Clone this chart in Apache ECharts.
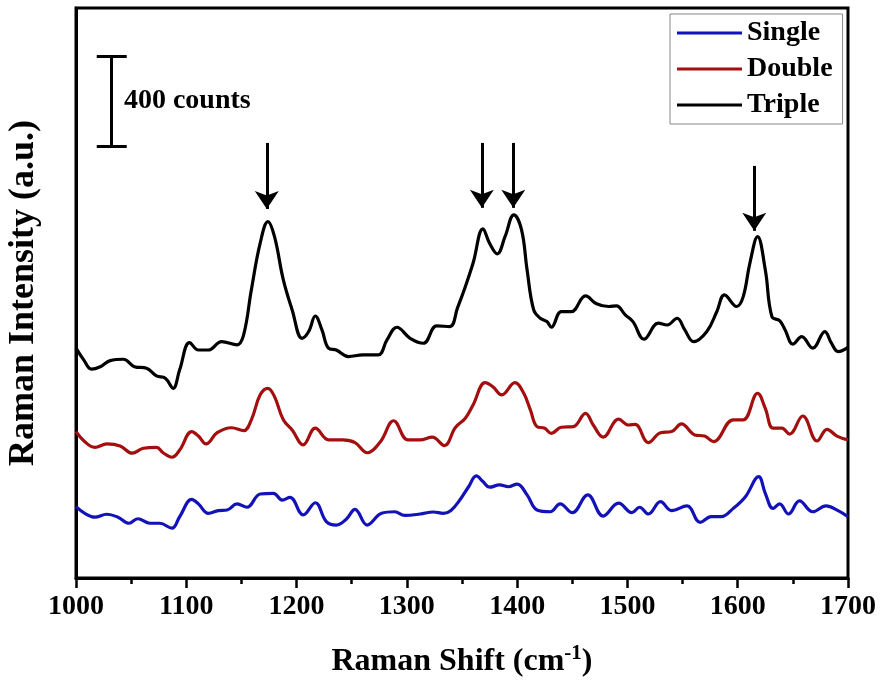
<!DOCTYPE html>
<html>
<head>
<meta charset="utf-8">
<script src="https://cdn.jsdelivr.net/npm/echarts@6/dist/echarts.min.js"></script>
<style>html,body{margin:0;padding:0;background:#fff}#c{width:885px;height:680px}</style>
</head>
<body>
<div id="c"></div>
<script>
// ---- data (Raman shift in cm^-1, intensity in counts, offset stacked) ----
var tripleShift = [1000,1007,1014,1022,1031,1043,1053,1064,1073,1081,1088,1094,1103,1111,1120,1132,1146,1152,1159,1167,1174,1180,1188,1196,1205,1211,1217,1223,1229,1236,1247,1260,1274,1282,1291,1303,1315,1327,1339,1346,1353,1360,1369,1375,1382,1389,1397,1404,1409,1415,1421,1427,1431,1440,1449,1462,1472,1483,1490,1498,1505,1515,1528,1536,1545,1552,1560,1572,1581,1588,1599,1605,1611,1618,1625,1631,1638,1643,1650,1658,1668,1679,1685,1691,1700];
var tripleCounts = [1020,968,927,938,965,971,938,931,897,887,842,924,1045,1012,1012,1049,1035,1079,1279,1486,1582,1515,1323,1190,1064,1094,1163,1101,1020,1012,983,990,990,1057,1113,1064,1042,1119,1116,1200,1293,1397,1550,1486,1439,1515,1612,1545,1368,1190,1153,1138,1113,1182,1182,1252,1217,1205,1208,1168,1138,1060,1131,1123,1153,1101,1049,1094,1182,1257,1205,1249,1397,1515,1368,1160,1142,1101,1038,1071,1020,1094,1042,1005,1024];

var doubleShift = [1000,1008,1017,1028,1040,1051,1061,1073,1079,1087,1094,1105,1111,1118,1128,1141,1152,1159,1167,1174,1180,1188,1196,1206,1217,1229,1242,1253,1264,1276,1288,1301,1312,1323,1334,1344,1353,1360,1371,1378,1386,1398,1406,1412,1418,1425,1431,1440,1451,1462,1469,1478,1492,1501,1507,1519,1530,1540,1549,1561,1570,1578,1596,1605,1618,1625,1632,1640,1647,1659,1672,1681,1690,1700];
var doubleCounts = [650,605,580,595,586,554,576,580,556,536,568,650,630,595,645,667,654,702,813,842,805,702,657,591,665,613,613,601,556,605,698,613,613,625,588,668,709,768,867,849,813,867,820,746,672,665,642,669,672,731,679,625,705,679,682,601,645,650,684,635,630,605,702,702,820,753,665,665,639,719,608,660,630,613];

var singleShift = [1000,1008,1017,1028,1038,1048,1056,1067,1076,1087,1094,1105,1111,1120,1129,1137,1146,1155,1167,1179,1187,1194,1206,1217,1227,1236,1245,1253,1264,1277,1289,1298,1312,1324,1333,1340,1348,1356,1363,1369,1375,1384,1392,1400,1409,1418,1430,1439,1450,1464,1478,1492,1504,1511,1519,1530,1540,1554,1566,1576,1585,1596,1607,1619,1625,1632,1638,1646,1656,1668,1680,1691,1700];
var singleCounts = [317,287,270,283,270,243,263,243,243,221,272,349,329,287,299,302,329,314,373,376,346,358,280,334,250,235,261,305,235,287,294,278,284,293,287,300,346,405,453,428,403,413,405,417,369,302,294,329,290,369,275,332,290,314,284,339,299,320,247,272,272,309,361,450,376,309,329,284,342,294,320,299,272];

var xTicks = [1000,1100,1200,1300,1400,1500,1600,1700];
var seriesNames = ['Single','Double','Triple'];
var arrowShifts = [1173,1368,1396.5,1615];
var scaleBarCounts = 400;

// ---- build ----
function pairs(xs, ys){ return xs.map(function(x,i){ return [x, ys[i]]; }); }
var FONT = 'Liberation Serif';
var arrowTop = [1931,1931,1931,1829];
var arrowTip = [1638,1643,1643,1541];
var sbX = 1032.4, sbLow = 1918, sbCapL = 1018.8, sbCapR = 1046;

var markLines = [];
arrowShifts.forEach(function(x,i){
  markLines.push([{coord:[x, arrowTop[i]], symbol:'none'}, {coord:[x, arrowTip[i]], symbol:'arrow', symbolSize:18}]);
});
var sbHigh = sbLow + scaleBarCounts;
markLines.push([{coord:[sbX, sbLow], symbol:'none'}, {coord:[sbX, sbHigh], symbol:'none'}]);
markLines.push([{coord:[sbCapL, sbLow], symbol:'none'}, {coord:[sbCapR, sbLow], symbol:'none'}]);
markLines.push([{coord:[sbCapL, sbHigh], symbol:'none'}, {coord:[sbCapR, sbHigh], symbol:'none'}]);

function lineSeries(name, xs, ys, color){
  return {
    name: name, type: 'line', data: pairs(xs, ys), smooth: 0.4,
    showSymbol: false, symbol: 'none',
    lineStyle: {color: color, width: 3.2}, itemStyle: {color: color},
    z: 3
  };
}
var sSingle = lineSeries(seriesNames[0], singleShift, singleCounts, '#1212b8');
var sDouble = lineSeries(seriesNames[1], doubleShift, doubleCounts, '#a30f0f');
var sTriple = lineSeries(seriesNames[2], tripleShift, tripleCounts, '#000000');
sTriple.markLine = {
  silent: true, animation: false,
  symbolSize: 18,
  label: {show: false},
  lineStyle: {color: '#000', width: 3, type: 'solid'},
  emphasis: {disabled: true},
  data: markLines
};
sTriple.markPoint = {
  silent: true, animation: false,
  symbol: 'rect', symbolSize: 1, itemStyle: {color: 'rgba(0,0,0,0)'},
  label: {show: true, position: 'right', distance: 0, formatter: scaleBarCounts + ' counts',
          fontFamily: FONT, fontWeight: 'bold', fontSize: 28, color: '#000'},
  data: [{coord: [1043, 2118]}]
};

var chart = echarts.init(document.getElementById('c'), null, {renderer: 'canvas'});
chart.setOption({
  animation: false,
  backgroundColor: '#fff',
  grid: {left: 76, right: 37, top: 8, bottom: 102, show: true, borderColor: '#000', borderWidth: 3,
         containLabel: false, outerBoundsMode: 'none'},
  legend: {
    data: seriesNames.map(function(n){ return {name: n, icon: 'rect'}; }),
    orient: 'vertical', left: 670, top: 14,
    itemWidth: 65, itemHeight: 3, itemGap: 8,
    padding: [5, 10, 5, 7],
    borderColor: '#888', borderWidth: 1,
    textStyle: {fontFamily: FONT, fontWeight: 'bold', fontSize: 28, color: '#000'}
  },
  xAxis: {
    type: 'value', min: 1000, max: 1700, interval: 100,
    name: 'Raman Shift (cm{sup|-1})', nameLocation: 'middle', nameGap: 65,
    nameTextStyle: {fontFamily: FONT, fontWeight: 'bold', fontSize: 32, color: '#000',
      rich: {sup: {fontFamily: FONT, fontWeight: 'bold', fontSize: 21, verticalAlign: 'top', padding: [0,0,16,0]}}},
    axisLine: {show: true, lineStyle: {color: '#000', width: 3}},
    axisTick: {show: true, inside: false, length: 10, lineStyle: {color: '#000', width: 2.5}},
    minorTick: {show: true, splitNumber: 2, length: 6, lineStyle: {color: '#000', width: 2.5}},
    axisLabel: {fontFamily: FONT, fontWeight: 'bold', fontSize: 28, color: '#000', margin: 15,
      formatter: function(v){ return xTicks.indexOf(v) >= 0 ? String(v) : ''; }},
    splitLine: {show: false}, minorSplitLine: {show: false}
  },
  yAxis: {
    type: 'value', min: 0, max: 2530,
    name: 'Raman Intensity (a.u.)', nameLocation: 'middle', nameGap: 34,
    nameTextStyle: {fontFamily: FONT, fontWeight: 'bold', fontSize: 36, color: '#000'},
    axisLine: {show: true, lineStyle: {color: '#000', width: 3}},
    axisTick: {show: false}, axisLabel: {show: false}, splitLine: {show: false}
  },
  series: [sSingle, sDouble, sTriple]
});
</script>
</body>
</html>
